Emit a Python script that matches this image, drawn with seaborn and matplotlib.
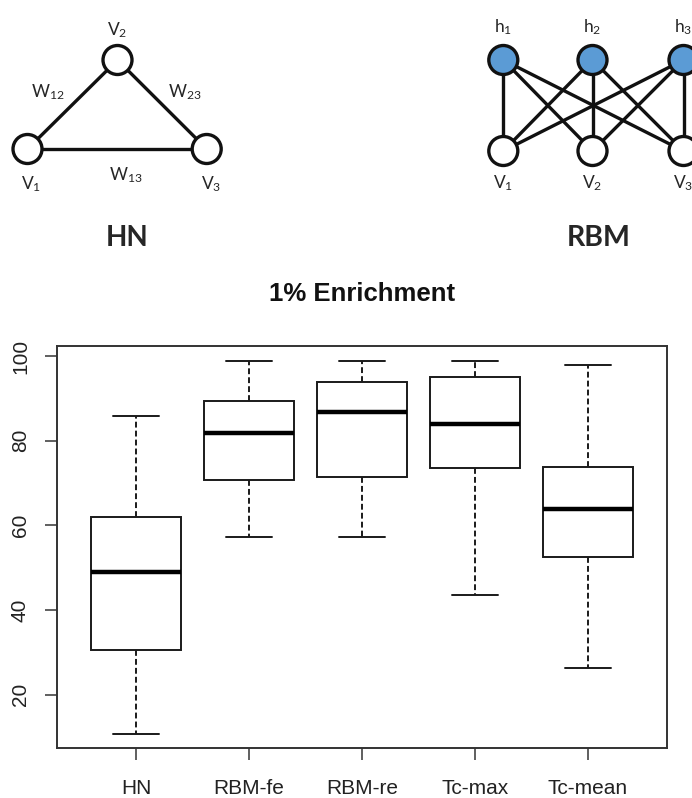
import matplotlib
matplotlib.use("Agg")
import matplotlib.pyplot as plt
from matplotlib.patches import Circle
import seaborn as sns
import pandas as pd

# boxplot summaries (whisker ends = min / max)
methods = ['HN', 'RBM-fe', 'RBM-re', 'Tc-max', 'Tc-mean']
low = [10.7, 57.2, 57.2, 43.5, 26.4]
q1 = [30.6, 70.7, 71.4, 73.6, 52.6]
median = [49.0, 81.8, 86.9, 84.0, 63.9]
q3 = [62.0, 89.4, 93.8, 95.1, 73.8]
high = [85.8, 98.9, 98.9, 98.9, 97.9]
y_ticks = [20, 40, 60, 80, 100]

# network diagrams (pixel layout of the top panel)
hn_nodes = {'V1': (27.5, 149), 'V2': (117.5, 60), 'V3': (206.7, 149)}
hn_edges = [('V1', 'V2'), ('V2', 'V3'), ('V1', 'V3')]
hn_labels = [(r'V$_\mathrm{2}$', 117.5, 30), (r'W$_\mathrm{12}$', 48, 92),
             (r'W$_\mathrm{23}$', 185, 92), (r'V$_\mathrm{1}$', 31.5, 184),
             (r'W$_\mathrm{13}$', 125.5, 175), (r'V$_\mathrm{3}$', 211.5, 184)]
rbm_hidden = [(503.3, 60), (592.5, 60), (683.5, 60)]
rbm_visible = [(503.3, 151), (592.5, 151), (683.5, 151)]
rbm_labels = [(r'h$_\mathrm{1}$', 503.3, 27.5), (r'h$_\mathrm{2}$', 592.5, 27.5),
              (r'h$_\mathrm{3}$', 683.5, 27.5), (r'V$_\mathrm{1}$', 503.3, 183),
              (r'V$_\mathrm{2}$', 592.5, 183), (r'V$_\mathrm{3}$', 683.5, 183)]

W, H = 692, 798


def main():
    sns.set_style('white')
    plt.rcParams['font.family'] = ['Liberation Sans', 'DejaVu Sans']
    plt.rcParams['mathtext.fontset'] = 'custom'
    plt.rcParams['mathtext.rm'] = 'Lato'
    plt.rcParams['mathtext.it'] = 'Lato:italic'
    plt.rcParams['mathtext.bf'] = 'Lato:bold'

    fig = plt.figure(figsize=(W / 100, H / 100), dpi=100)

    # ---- top: diagrams ----
    top = fig.add_axes([0, (H - 270) / H, 1, 270 / H])
    top.set_xlim(0, W)
    top.set_ylim(270, 0)
    top.axis('off')

    lab_font = ['Lato', 'Noto Sans', 'DejaVu Sans']
    lw = 2.4
    r = 14.5

    for a, b in hn_edges:
        (x1, y1), (x2, y2) = hn_nodes[a], hn_nodes[b]
        top.plot([x1, x2], [y1, y2], color='#111111', lw=lw, zorder=1,
                 solid_capstyle='butt')
    for x, y in hn_nodes.values():
        top.add_patch(Circle((x, y), r, fc='white', ec='#111111', lw=lw, zorder=2))

    for hx, hy in rbm_hidden:
        for vx, vy in rbm_visible:
            top.plot([hx, vx], [hy, vy], color='#111111', lw=lw, zorder=1,
                     solid_capstyle='butt')
    for x, y in rbm_hidden:
        top.add_patch(Circle((x, y), r, fc='#5B9BD5', ec='#111111', lw=lw, zorder=2))
    for x, y in rbm_visible:
        top.add_patch(Circle((x, y), r, fc='white', ec='#111111', lw=lw, zorder=2))

    for txt, x, y in hn_labels + rbm_labels:
        top.text(x, y, txt, ha='center', va='center', fontsize=12.5,
                 color='#262626', family=lab_font)
    top.text(126.7, 237.5, 'HN', ha='center', va='center', fontsize=20,
             fontweight='bold', color='#262626', family=lab_font)
    top.text(599, 237.5, 'RBM', ha='center', va='center', fontsize=20.5,
             fontweight='bold', color='#262626', family=lab_font)

    # ---- bottom: boxplot ----
    rows = []
    for i, m in enumerate(methods):
        for v in (low[i], q1[i], median[i], q3[i], high[i]):
            rows.append({'method': m, 'value': v})
    df = pd.DataFrame(rows)

    ax = fig.add_axes([57 / W, 1 - 748 / H, (667 - 57) / W, (748 - 346) / H])
    sns.boxplot(data=df, x='method', y='value', ax=ax, whis=(0, 100),
                width=0.8, color='white', linecolor='#1a1a1a', linewidth=1.4,
                medianprops={'linewidth': 3.2, 'color': 'black'},
                whiskerprops={'linestyle': (0, (3, 1.6))})

    ax.set_xlim(-0.7, 4.7)
    ax.set_ylim(7.4, 102.4)
    ax.set_yticks(y_ticks)
    ax.set_xlabel('')
    ax.set_ylabel('')
    for s in ax.spines.values():
        s.set_visible(True)
        s.set_color('#333333')
        s.set_linewidth(1.4)
    ax.tick_params(axis='both', direction='out', length=8.5, width=1.2,
                   color='#444444', labelsize=15, labelcolor='#222222',
                   bottom=True, left=True)
    ax.tick_params(axis='x', pad=14)
    ax.tick_params(axis='y', pad=11)
    for t in ax.get_yticklabels():
        t.set_rotation(90)
        t.set_va('center')

    fig.text(362 / W, 1 - 293.5 / H, '1% Enrichment', ha='center', va='center',
             fontsize=18.5, fontweight='bold', color='#111111')

    fig.savefig('out.png', dpi=100)


if __name__ == "__main__":
    main()
